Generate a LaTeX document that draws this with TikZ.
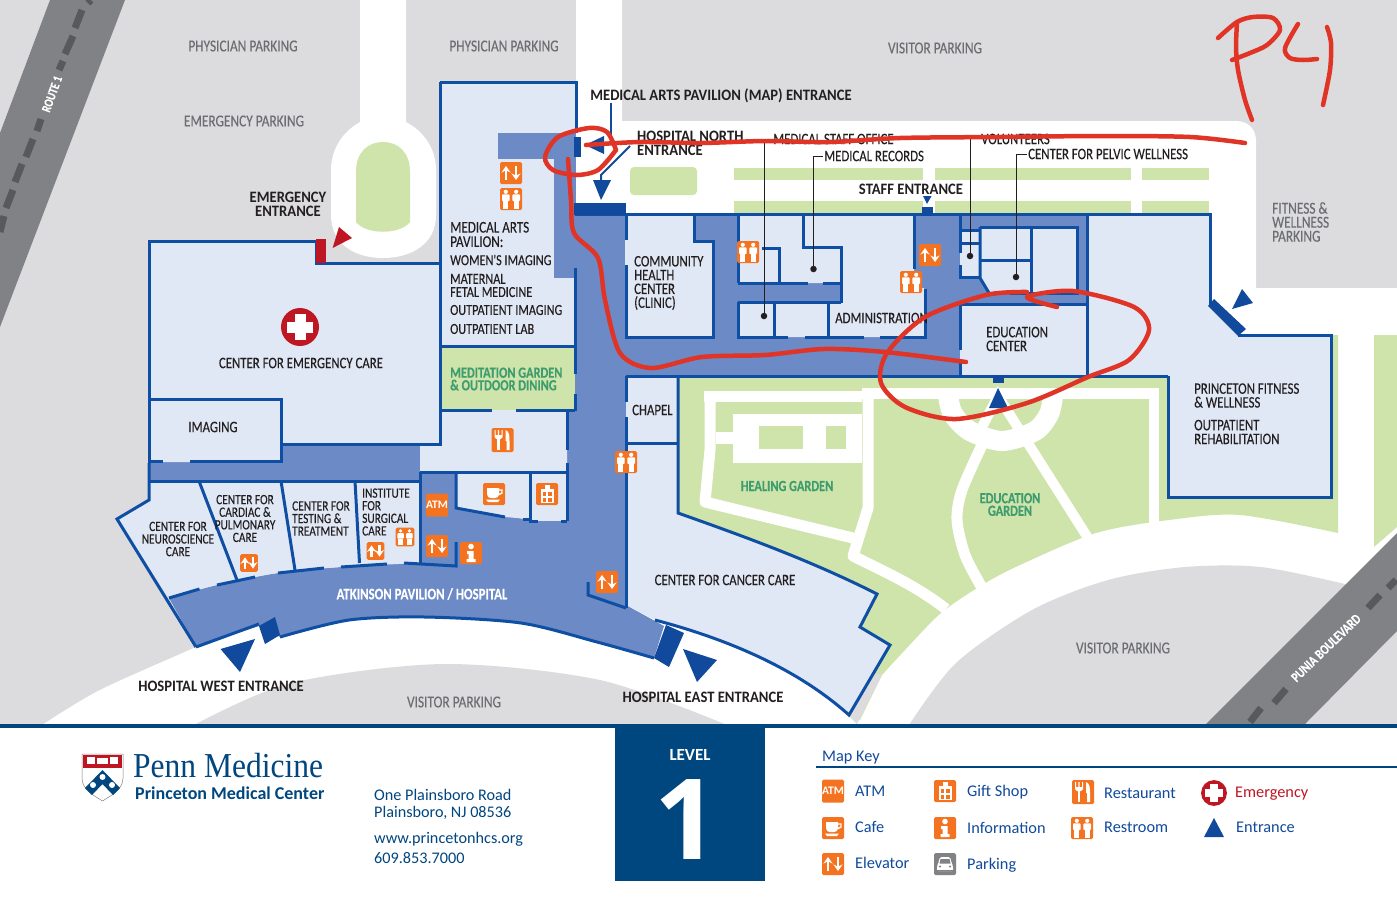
\documentclass[tikz,border=0pt]{standalone}
\usepackage{fontspec}
\usepackage{tikz}
\newfontfamily\mapfont{Carlito}[FakeStretch=0.8,FakeBold=0.2]
\newfontfamily\entrfont{Carlito}[FakeStretch=0.92]
\newfontfamily\keyfont{Carlito}
\newfontfamily\numfont{Open Sans}
\newfontfamily\logofont{Liberation Serif}[FakeStretch=0.9]
\usetikzlibrary{arrows.meta, positioning}
\definecolor{parkgray}{HTML}{DCDCDE}
\definecolor{roadgray}{HTML}{808285}
\definecolor{dashgray}{HTML}{58595B}
\definecolor{lawn}{HTML}{CFE4AB}
\definecolor{roomblue}{HTML}{E1E8F5}
\definecolor{hallblue}{HTML}{6C8AC6}
\definecolor{wallblue}{HTML}{0F4FA3}
\definecolor{doorblue}{HTML}{114A9C}
\definecolor{navy}{HTML}{00467F}
\definecolor{iconorange}{HTML}{F47321}
\definecolor{crossred}{HTML}{BE1622}
\definecolor{penred}{HTML}{E03426}
\definecolor{gardentext}{HTML}{3F9C6E}
\definecolor{inktext}{HTML}{231F20}
\definecolor{parktext}{HTML}{6D6E71}
\newcommand{\personfig}[1]{
  \fill[white] (#1,-7.2) circle (2.1);
  \fill[white,rounded corners=.8] (#1-3.8,-4.6) rectangle (#1+3.8,2);
  \fill[white] (#1-2.6,2) rectangle (#1+2.6,9.5);}
\tikzset{>=stealth,
  room/.style={fill=roomblue},
  hall/.style={fill=hallblue},
  wall/.style={draw=wallblue,line width=3,line cap=butt},
  path walk/.style={draw=white,line width=11,line join=round},
  door/.style={fill=doorblue},
  roadmark/.style={draw=dashgray,line width=7},
  iconbox/.style={fill=iconorange,rounded corners=1.5},
  parklbl/.style={font=\mapfont\fontsize{16.7}{14}\selectfont,text=parktext,align=left,inner sep=0},
  roomlbl/.style={font=\mapfont\fontsize{16}{13.8}\selectfont,text=inktext,align=left,inner sep=0},
  panellbl/.style={font=\mapfont\fontsize{15.3}{13.2}\selectfont,text=inktext,align=left,anchor=west,inner sep=0},
  smalllbl/.style={font=\mapfont\fontsize{14.2}{12.6}\selectfont,text=inktext,inner sep=0},
  entrlbl/.style={font=\entrfont\bfseries\fontsize{15.9}{14}\selectfont,text=inktext,align=left,inner sep=0},
  gardenlbl/.style={font=\mapfont\bfseries\fontsize{15.4}{12.6}\selectfont,text=gardentext,align=center,inner sep=0},
  keylbl/.style={font=\keyfont\fontsize{16.3}{18}\selectfont,text=doorblue,anchor=west,inner sep=0},
  infolbl/.style={font=\keyfont\fontsize{16.2}{18}\selectfont,text=navy,anchor=west,inner sep=0},
  redline/.style={draw=penred,line width=4.5,line cap=round,line join=round},
  elevicon/.pic={
    \fill[iconbox] (-11,-11) rectangle (11,11);
    \draw[white,line width=2.8,-{Stealth[length=6.5pt,width=9pt]}] (-5,7) -- (-5,-7);
    \draw[white,line width=2.8,-{Stealth[length=6.5pt,width=9pt]}] (5,-7) -- (5,7);},
  resticon/.pic={
    \fill[iconbox] (-11,-11) rectangle (11,11);
    \personfig{-5.2}
    \personfig{5.2}
    \draw[iconorange,line width=.7] (0,-10) -- (0,10);},
  foodicon/.pic={
    \fill[iconbox] (-11,-12) rectangle (11,12);
    \draw[white,line width=2.2] (-4,-2) -- (-4,10);
    \fill[white] (-8,-10) -- (-7,-10) -- (-7,-5) -- (-4.6,-5) -- (-4.6,-10) -- (-3.4,-10) -- (-3.4,-5) -- (-1,-5) -- (-1,-10) -- (0,-10) -- (0,-3) -- (-2,-1) -- (-6,-1) -- (-8,-3) -- cycle;
    \fill[white] (3,-10) .. controls (7,-9) and (7,-3) .. (7,1) -- (7,10) -- (4,10) -- (4,1) -- (3,1) -- cycle;},
  cafeicon/.pic={
    \fill[iconbox] (-11,-11) rectangle (11,11);
    \fill[white] (-7,-6) -- (5,-6) -- (5,0) .. controls (5,3) and (3,4) .. (1,4) -- (-3,4) .. controls (-5,4) and (-7,3) .. (-7,0) -- cycle;
    \draw[white,line width=1.4] (5,-4) -- (8,-4) -- (8,-1) -- (4,1);
    \fill[white] (-8,5.5) -- (6,5.5) -- (4,8) -- (-6,8) -- cycle;},
  gifticon/.pic={
    \fill[iconbox] (-11,-11) rectangle (11,11);
    \fill[white] (-6.5,-5) rectangle (6.5,9);
    \fill[white] (-2.5,-9) rectangle (2.5,-5);
    \fill[iconorange] (-4.5,-2) rectangle (-1,2);
    \fill[iconorange] (1,-2) rectangle (4.5,2);
    \fill[iconorange] (-4.5,3.5) rectangle (-1,7.5);
    \fill[iconorange] (1,3.5) rectangle (4.5,7.5);},
  infoicon/.pic={
    \fill[iconbox] (-11,-11) rectangle (11,11);
    \fill[white] (0,-6.5) circle (2.8);
    \fill[white] (-4,-2) -- (2.5,-2) -- (2.5,6) -- (4.5,6) -- (4.5,9) -- (-4.5,9) -- (-4.5,6) -- (-2.5,6) -- (-2.5,1) -- (-4,1) -- cycle;},
  atmicon/.pic={
    \fill[iconbox] (-11,-11.5) rectangle (11,11.5);
    \node[font=\keyfont\bfseries\fontsize{11.5}{12}\selectfont,text=white,inner sep=0] (atmtext) at (0,0) {ATM};},
  parkicon/.pic={
    \fill[fill=roadgray,rounded corners=1.5] (-11,-11) rectangle (11,11);
    \fill[white,rounded corners=1.5] (-7,0) -- (-5,-7) -- (5,-7) -- (7,0) -- (8,2) -- (8,7) -- (-8,7) -- (-8,2) -- cycle;
    \fill[roadgray] (-4.5,-5) -- (4.5,-5) -- (5.5,-.5) -- (-5.5,-.5) -- cycle;
    \fill[roadgray] (-8,7) rectangle (8,5.8);
    \fill[roadgray] (-5,2.5) circle (1.2);
    \fill[roadgray] (5,2.5) circle (1.2);},
  crossicon/.pic={
    \fill[crossred] (0,0) circle (19);
    \fill[white] (-13,-5.5) rectangle (13,5.5);
    \fill[white] (-5.5,-13) rectangle (5.5,13);}
}
\begin{document}
\begin{tikzpicture}[x=1pt,y=-1pt]
\useasboundingbox (0,0) rectangle (1397,898);
\fill[white] (0,0) rectangle (1397,898);
\fill[parkgray] (0,0) rectangle (1397,725);
\fill[roadgray] (50,0) -- (125,0) -- (0,327) -- (0,133) -- cycle;
\foreach \ax/\ay/\bx/\by in {91/0/88/3, 82/10/75/28, 73/36/65/54, 63/61/59/70, 41/119/37/131, 33/139/26/157, 22/164/15/182, 13/190/6/208, 4/216/0/232}
  \draw[roadmark] (\ax,\ay) -- (\bx,\by);
\fill[white] (360,0) -- (406,0) -- (406,122) .. controls (425,132) and (436,150) .. (436,170) -- (436,215) .. controls (436,245) and (410,258) .. (383,258) .. controls (356,258) and (331,245) .. (331,215) -- (331,170) .. controls (331,150) and (342,132) .. (360,122) -- cycle;
\fill[lawn] (356,172) .. controls (356,152) and (368,142) .. (383,142) .. controls (398,142) and (410,152) .. (410,172) -- (410,222) .. controls (400,235) and (366,235) .. (356,222) -- cycle;
\fill[white] (576,0) -- (622,0) -- (622,121) -- (1236,121) .. controls (1248,121) and (1256,129) .. (1256,141) -- (1256,288) -- (1397,288) -- (1397,725) -- (857,725) -- (700,450) -- (576,450) -- cycle;
\fill[white] (42,725) -- plot[smooth] coordinates {(42,725) (100,690) (196,647) (300,600) (420,590) (560,600) (680,612)} -- (760,632) -- (849,705) -- (862,725) -- cycle;
\fill[parkgray] (194,725) -- plot[smooth] coordinates {(194,725) (291,683) (444,664) (600,680) (727,725)} -- cycle;
\fill[lawn,rounded corners=4] (630,167) rectangle (697,195);
\foreach \ya/\yb in {168/180, 201/214}{
  \fill[lawn] (734,\ya) rectangle (923,\yb);
  \fill[lawn] (934.5,\ya) rectangle (1131,\yb);
  \fill[lawn] (1142,\ya) rectangle (1209,\yb);}
\fill[lawn] (1374,335) -- (1397,335) -- (1397,527) -- (1374,547) -- cycle;
\fill[lawn] (678,376) -- (1100,376) -- (1100,335) -- (1338,335) -- (1338,533) -- plot[smooth] coordinates {(1338,533) (1240,515) (1169,520) (1096,533) (1020,565) (982,585) (941,613) (905,650) (882,675)} -- (860,720) -- (678,520) -- cycle;
\fill[parkgray] (882,675) -- (857,724) -- (849,716) -- (868,672) -- cycle;
\fill[white] (704,391) rectangle (862,402);
\fill[white] (862,388) rectangle (1159,399);
\fill[white] (1149,388) rectangle (1159,523);
\draw[path walk] (710,396) -- (710,450) -- (705,502) -- (853,538);
\draw[path walk] (868,392) -- (868,508) -- (853,556) .. controls (885,572) and (915,585) .. (946,609);
\fill[white] (733,414) rectangle (862,463);
\fill[white] (716,432) rectangle (733,444);
\fill[lawn] (759,426) rectangle (803,449);
\fill[lawn] (826,426) rectangle (846,449);
\draw[white,line width=20] plot[smooth] coordinates {(948,396) (953,414) (970,431) (1002,441) (1035,431) (1049,414) (1053,396)};
\draw[white,line width=10] (978,435) -- (998,396) -- (1088,538);
\draw[white,line width=11] plot[smooth] coordinates {(982,445) (962,490) (957,520) (965,555) (981,586)};
\fill[parkgray] (909,725) -- plot[smooth] coordinates {(909,725) (956,663) (1032,610) (1108,580) (1185,567) (1261,567) (1345,584)} -- (1397,600) -- (1397,725) -- cycle;
\fill[roadgray] (1397,533) -- (1397,631) -- (1304,725) -- (1205,725) -- cycle;
\foreach \ax/\ay/\bx/\by in {1396/580/1388/588, 1380/595/1368/608, 1286/689/1274/703, 1261/708/1250/722}
  \draw[roadmark] (\ax,\ay) -- (\bx,\by);
\fill[hall] (150,444) rectangle (421,482);
\fill[room] (440,82) rectangle (576,347);
\fill[lawn] (441,347) rectangle (575,410);
\fill[room] (149,241) -- (316,241) -- (316,263) -- (440,263) -- (440,444) -- (281,444) -- (281,462) -- (149,462) -- cycle;
\fill[hall] (498,133) rectangle (576,159);
\fill[hall] (554,159) rectangle (576,278);
\fill[hall] (575,214) -- (1087,214) -- (1087,305) -- (960,305) -- (960,376) -- (626,376) -- (626,605) -- (664,626) -- (654,658) -- plot[smooth] coordinates {(654,658) (597,642) (521,623) (425,617) (349,620) (280,637)} -- (259,626) -- (196,646) -- (169,598) -- plot[smooth] coordinates {(169,598) (217,585) (278,573) (341,567) (404,563)} -- (420,563) -- (420,473) -- (456,473) -- (456,508) -- (530,520) -- (567,520) -- (567,410) -- (575,410) -- cycle;
\fill[room] (150,482) -- (420,482) -- (420,563) -- plot[smooth] coordinates {(420,563) (341,567) (278,573) (217,585) (169,598)} -- (117,519) -- (150,500) -- cycle;
\fill[room] (440,410) -- (567,410) -- (567,472) -- (420,472) -- (420,445) -- (440,445) -- cycle;
\fill[room] (456,473) -- (530,473) -- (530,519) -- (505,517) -- (456,508) -- cycle;
\fill[room] (530,473) rectangle (567,521);
\fill[room] (625,215) -- (694,215) -- (694,241) -- (713,241) -- (713,337) -- (625,337) -- cycle;
\fill[room] (738,215) -- (914,215) -- (914,288) -- (924,288) -- (924,337) -- (738,337) -- (738,302) -- (841,302) -- (841,283) -- (738,283) -- cycle;
\fill[room] (980,227) -- (1077,227) -- (1077,293) -- (989,293) -- (980,278) -- cycle;
\fill[room] (960,230) rectangle (980,277);
\fill[room] (960,305) rectangle (1087,376);
\fill[room] (1087,214) -- (1210,214) -- (1210,305) -- (1238,335) -- (1331,335) -- (1331,497) -- (1168,497) -- (1168,376) -- (1087,376) -- cycle;
\fill[room] (626,376) rectangle (678,443);
\fill[room] (626,443) -- (678,443) -- (678,513) .. controls (740,535) and (810,560) .. (877,594) -- (860,627) -- (890,645) -- (849,715) .. controls (810,680) and (750,645) .. (655,620) -- (626,605) -- cycle;
\draw[wall] (440,82) -- (576,82) -- (576,133);
\draw[wall] (440,82) -- (440,444) -- (281,444);
\draw[wall] (149,463) -- (149,241) -- (316,241) -- (316,263) -- (440,263);
\draw[wall] (149,399) -- (281,399) -- (281,461) -- (190,461);
\draw[wall] (163,461) -- (149,461);
\draw[wall] (440,346) -- (575,346);
\draw[wall] (575,268) -- (575,374);
\draw[wall] (575,394) -- (575,411);
\draw[wall] (440,410) -- (492,410);
\draw[wall] (516,410) -- (575,410);
\draw[wall] (567,410) -- (567,450);
\draw[wall] (567,463) -- (567,521);
\draw[wall] (420,472) -- (567,472);
\draw[wall] (456,472) -- (456,508) -- (505,517);
\draw[wall] (523,519) -- (530,519);
\draw[wall] (530,472) -- (530,521) -- (538,521);
\draw[wall] (561,521) -- (567,521);
\draw[wall] (149,481) -- (420,481);
\draw[wall] (420,472) -- (420,563);
\draw[wall] (149,463) -- (149,500) -- (117,519) -- (196,647);
\draw[wall] (199,481) -- (237,580);
\draw[wall] (281,481) -- (295,570);
\draw[wall] (355,481) -- (359.5,563);
\draw[wall] (169,598) -- (199.5,589);
\draw[wall] (217,585) -- (255,577);
\draw[wall] (278,573) -- (324,568);
\draw[wall] (341,567) -- (387,564);
\draw[wall] (404,563) -- (456,566) -- (456,542);
\draw[wall] (196,647) -- (259,624);
\draw[wall] plot[smooth] coordinates {(280,637) (349,620) (425,617) (521,623) (597,642) (654,658)};
\draw[wall] (588,582) -- (588,595) -- (626,608);
\draw[wall] (626,376) -- (1168,376);
\draw[wall] (626,376) -- (626,402);
\draw[wall] (626,417) -- (626,608);
\draw[wall] (626,443) -- (678,443);
\draw[wall] (678,376) -- (678,513) .. controls (740,535) and (810,560) .. (877,594) -- (860,627) -- (890,645) -- (849,715) .. controls (810,680) and (750,645) .. (655,620);
\draw[wall] (575,214) -- (1210,214) -- (1210,305);
\draw[wall] (626,214) -- (626,240);
\draw[wall] (626,265) -- (626,337) -- (713,337) -- (713,241) -- (694,241) -- (694,214);
\draw[wall] (738,214) -- (738,283);
\draw[wall] (762,248) -- (779,248) -- (779,283);
\draw[wall] (738,283) -- (808,283);
\draw[wall] (823,283) -- (841,283);
\draw[wall] (803,214) -- (803,247) -- (841,247) -- (841,303);
\draw[wall] (738,302) -- (841,302);
\draw[wall] (738,302) -- (738,337) -- (788,337);
\draw[wall] (805,337) -- (864,337);
\draw[wall] (880,337) -- (925,337) -- (925,289);
\draw[wall] (774,302) -- (774,337);
\draw[wall] (828,302) -- (828,337);
\draw[wall] (914,214) -- (914,269);
\draw[wall] (960,214) -- (960,253);
\draw[wall] (960,265) -- (960,277) -- (980,277);
\draw[wall] (960,230) -- (980,230);
\draw[wall] (960,243) -- (980,243);
\draw[wall] (980,227) -- (980,278) -- (989,293);
\draw[wall] (980,227) -- (1077,227) -- (1077,293) -- (1009,293);
\draw[wall] (1031,227) -- (1031,293);
\draw[wall] (980,260) -- (1031,260);
\draw[wall] (1087,214) -- (1087,376);
\draw[wall] (960,304) -- (1087,304);
\draw[wall] (960,304) -- (960,350);
\draw[wall] (960,363) -- (960,376);
\draw[wall] (1168,376) -- (1168,497) -- (1331,497) -- (1331,335) -- (1238,335);
\fill[door] (574,137) rectangle (581,157);
\fill[door] (604,136) -- (604,154) -- (585,145) -- cycle;
\fill[door] (574,203) rectangle (626,215);
\fill[door] (593,180) -- (611,180) -- (601,200) -- cycle;
\fill[door] (922,207) rectangle (933,216);
\fill[door] (923,196) -- (931.5,196) -- (927,204) -- cycle;
\fill[door] (993,375) rectangle (1004,383);
\fill[door] (998,388) -- (1008,408) -- (989,408) -- cycle;
\fill[door] (1214,299) -- (1246,329) -- (1238,336) -- (1208,306) -- cycle;
\fill[door] (1242,289) -- (1253,303) -- (1232,309) -- cycle;
\fill[door] (259,626) -- (275,617) -- (280,635) -- (265,644) -- cycle;
\fill[door] (255,639) -- (240,672) -- (220.5,649) -- cycle;
\fill[door] (666,625) -- (684,633) -- (669,667) -- (654,658) -- cycle;
\fill[door] (683,649) -- (717,660) -- (697,682) -- cycle;
\fill[crossred] (316,239) rectangle (326,263);
\fill[crossred] (339,227) -- (352,238) -- (332.6,248) -- cycle;
\pic at (300,327) {crossicon};
\pic at (511,173) {elevicon};
\pic at (511,199) {resticon};
\pic at (748,252) {resticon};
\pic at (930,255) {elevicon};
\pic at (911,282) {resticon};
\pic at (626,462) {resticon};
\pic at (607,582) {elevicon};
\pic at (502.5,440) {foodicon};
\pic at (494,494) {cafeicon};
\pic at (547,494) {gifticon};
\pic at (437,505) {atmicon};
\pic at (437,546) {elevicon};
\pic at (471,553) {infoicon};
\pic[scale=.85] at (405,537) {resticon};
\pic[scale=.8] at (375.5,551) {elevicon};
\pic[scale=.8] at (249,563) {elevicon};
\node[parklbl] (phys1) at (243,46) {PHYSICIAN PARKING};
\node[parklbl] (phys2) at (504,46) {PHYSICIAN PARKING};
\node[parklbl] (visit1) at (935,48) {VISITOR PARKING};
\node[parklbl] (emerpark) at (244,121) {EMERGENCY PARKING};
\node[parklbl] (visit2) at (454,702) {VISITOR PARKING};
\node[parklbl] (visit3) at (1123,648) {VISITOR PARKING};
\node[parklbl,anchor=west] (fitpark) at (1272,222) {FITNESS \&\\WELLNESS\\PARKING};
\node[parklbl,text=white,font=\mapfont\bfseries\fontsize{13}{11}\selectfont,rotate=70] (route) at (52,94) {ROUTE 1};
\node[parklbl,text=white,font=\mapfont\bfseries\fontsize{14}{11}\selectfont,rotate=44] (punia) at (1326,648) {PUNIA BOULEVARD};
\node[entrlbl,align=center] (emerent) at (288,204) {EMERGENCY\\ENTRANCE};
\node[entrlbl] (mapent) at (721,96) {MEDICAL ARTS PAVILION (MAP) ENTRANCE};
\node[entrlbl,anchor=west] (northent) at (637,143) {HOSPITAL NORTH\\ENTRANCE};
\node[entrlbl] (staffent) at (911,189) {STAFF ENTRANCE};
\node[entrlbl] (westent) at (221,686) {HOSPITAL WEST ENTRANCE};
\node[entrlbl] (eastent) at (703,697) {HOSPITAL EAST ENTRANCE};
\node[roomlbl,anchor=west] (staffoff) at (773,139) {MEDICAL STAFF OFFICE};
\node[roomlbl,anchor=west] (volun) at (981,139) {VOLUNTEERS};
\node[roomlbl,anchor=west] (records) at (824,156) {MEDICAL RECORDS};
\node[roomlbl,anchor=west] (pelvic) at (1028,154) {CENTER FOR PELVIC WELLNESS};
\node[roomlbl,anchor=west,font=\mapfont\fontsize{16.4}{14.4}\selectfont] (mapa) at (450,234.5) {MEDICAL ARTS\\PAVILION:};
\node[panellbl] (mapb) at (450,260) {WOMEN'S IMAGING};
\node[panellbl] (mapc) at (450,285.5) {MATERNAL\\FETAL MEDICINE};
\node[panellbl] (mapd) at (450,310) {OUTPATIENT IMAGING};
\node[panellbl] (mape) at (450,329) {OUTPATIENT LAB};
\node[roomlbl,anchor=west] (clinic) at (634,283) {COMMUNITY\\HEALTH\\CENTER\\(CLINIC)};
\node[roomlbl,anchor=west] (admin) at (835,318) {ADMINISTRATION};
\node[roomlbl,anchor=west] (educ) at (986,339) {EDUCATION\\CENTER};
\node[roomlbl] (emercare) at (301,363) {CENTER FOR EMERGENCY CARE};
\node[roomlbl] (imaging) at (213,427) {IMAGING};
\node[roomlbl,anchor=west] (chapel) at (632,410) {CHAPEL};
\node[roomlbl,anchor=west] (fita) at (1194,395.5) {PRINCETON FITNESS\\\& WELLNESS};
\node[roomlbl,anchor=west] (fitb) at (1194,432) {OUTPATIENT\\REHABILITATION};
\node[roomlbl] (cancer) at (725,580) {CENTER FOR CANCER CARE};
\node[smalllbl,align=center] (neuro) at (178,539) {CENTER FOR\\NEUROSCIENCE\\CARE};
\node[smalllbl,align=center] (cardiac) at (245,518.5) {CENTER FOR\\CARDIAC \&\\PULMONARY\\CARE};
\node[smalllbl,align=left,anchor=west] (testing) at (292,518.5) {CENTER FOR\\TESTING \&\\TREATMENT};
\node[smalllbl,align=left,anchor=west] (surgical) at (362,512) {INSTITUTE\\FOR\\SURGICAL\\CARE};
\node[roomlbl,text=white,font=\mapfont\bfseries\fontsize{16}{14}\selectfont] (atkinson) at (422,594) {ATKINSON PAVILION / HOSPITAL};
\node[gardenlbl,align=left,anchor=west] (medit) at (450,379) {MEDITATION GARDEN\\\& OUTDOOR DINING};
\node[gardenlbl] (healing) at (787,486) {HEALING GARDEN};
\node[gardenlbl] (edugard) at (1010,504.5) {EDUCATION\\GARDEN};
\coordinate (mapturn) at (611,135);
\coordinate (northturn) at (601,175);
\coordinate (northtip) at (601,186);
\coordinate (northfoot) at (630,146);
\node[circle,fill=inktext,inner sep=0,minimum size=6.5] (staffdot) at (764,316) {};
\node[circle,fill=inktext,inner sep=0,minimum size=6.5] (recdot) at (813.5,269) {};
\node[circle,fill=inktext,inner sep=0,minimum size=6.5] (voldot) at (970,256) {};
\node[circle,fill=inktext,inner sep=0,minimum size=6.5] (pelvdot) at (1016,277) {};
\draw[doorblue,line width=2] (mapent.south -| mapturn) -- (mapturn);
\draw[doorblue,line width=2] (northfoot) -- (northturn) -- (northtip);
\draw[inktext,line width=.8] ([xshift=-1]staffoff.west) -| (staffdot);
\draw[inktext,line width=.8] ([xshift=-1]records.west) -| (recdot);
\draw[inktext,line width=.8] (970,139) -- (voldot);
\draw[inktext,line width=.8] ([xshift=-1]pelvic.west) -| (pelvdot);
\fill[navy] (0,724) rectangle (1397,728);
\fill[navy] (615,724) rectangle (765,881);
\node[font=\keyfont\bfseries\fontsize{17}{18}\selectfont,text=white,inner sep=0] (level) at (690,755) {LEVEL};
\node[font=\numfont\bfseries\fontsize{112}{112}\selectfont,text=white,inner sep=0] (levelnum) at (686,820) {1};
\fill[white] (82,754) -- (123,754) -- (123,778) .. controls (123,790) and (110,796) .. (102.5,801) .. controls (95,796) and (82,790) .. (82,778) -- cycle;
\draw[roadgray,line width=.5] (82,754) -- (123,754) -- (123,778) .. controls (123,790) and (110,796) .. (102.5,801) .. controls (95,796) and (82,790) .. (82,778) -- cycle;
\fill[crossred] (83,755) rectangle (122,768);
\fill[white] (87,757) rectangle (95,764);
\fill[white] (110,757) rectangle (118,764);
\fill[white] (97,758) rectangle (108,764);
\fill[navy] (102.5,770) -- (120,788) -- (113,795) -- (102.5,784) -- (92,795) -- (85,788) -- cycle;
\fill[white] (102.5,777) circle (3);
\fill[white] (93,785) circle (3);
\fill[white] (112,785) circle (3);
\node[font=\logofont\fontsize{35}{35}\selectfont,text=navy,anchor=west,inner sep=0] (penn) at (133,766) {Penn Medicine};
\node[font=\keyfont\bfseries\fontsize{18}{18}\selectfont,text=navy,anchor=west,inner sep=0] (pmc) at (135,793) {Princeton Medical Center};
\node[infolbl] (addra) at (374,795) {One Plainsboro Road};
\node[infolbl] (addrb) at (374,813) {Plainsboro, NJ 08536};
\node[infolbl] (web) at (374,839) {www.princetonhcs.org};
\node[infolbl] (phone) at (374,858) {609.853.7000};
\node[keylbl] (keyhead) at (822,758) {Map Key};
\draw[navy,line width=1.2] (816,767) -- (1397,767);
\pic at (833,791) {atmicon};
\pic at (833,828) {cafeicon};
\pic at (833,864) {elevicon};
\pic at (945,791) {gifticon};
\pic at (945,828) {infoicon};
\pic at (945,864) {parkicon};
\pic at (1083,792) {foodicon};
\pic at (1082,828) {resticon};
\pic[scale=.68] at (1214,793) {crossicon};
\fill[door] (1214,818) -- (1224,837) -- (1204,837) -- cycle;
\node[keylbl] (keyatm) at (855,791) {ATM};
\node[keylbl] (keycafe) at (855,827) {Cafe};
\node[keylbl] (keyelev) at (855,863) {Elevator};
\node[keylbl] (keygift) at (967,792) {Gift Shop};
\node[keylbl] (keyinfo) at (967,828) {Information};
\node[keylbl] (keypark) at (967,865) {Parking};
\node[keylbl] (keyfood) at (1104,793) {Restaurant};
\node[keylbl] (keyrest) at (1104,827) {Restroom};
\node[keylbl,text=crossred] (keyemer) at (1235,794) {Emergency};
\node[keylbl] (keyentr) at (1236,827) {Entrance};
\draw[redline] plot[smooth] coordinates {(586,145) (640,142) (700,143) (765,141) (830,142) (900,138) (1000,137) (1100,136) (1190,137) (1245,143)};
\draw[redline] plot[smooth] coordinates {(616,150) (607,132) (589,128) (558,137) (545,157) (553,170) (576,175) (598,170) (616,150)};
\draw[redline] plot[smooth] coordinates {(568,159) (571,200) (574,233) (598,258) (605,300) (620,353) (651,368) (702,357) (765,355) (824,349) (885,352) (966,362)};
\draw[redline] plot[smooth] coordinates {(1057,307) (1027,297) (1073,291) (1134,307) (1149,330) (1129,360) (1088,377) (1027,403) (956,419) (905,407) (881,383) (887,353) (925,317) (986,295) (1027,292)};
\draw[redline] plot[smooth] coordinates {(1218,38) (1237,22) (1253,17) (1273,18) (1280,30) (1267,45) (1250,53) (1232,60)};
\draw[redline] plot[smooth] coordinates {(1237,23) (1236,47) (1238,70) (1245,100) (1252,120)};
\draw[redline] plot[smooth] coordinates {(1298,24) (1285,48) (1290,58) (1303,60) (1317,59)};
\draw[redline] plot[smooth] coordinates {(1327,27) (1331,43) (1330,70) (1323,105)};
\end{tikzpicture}
\end{document}
